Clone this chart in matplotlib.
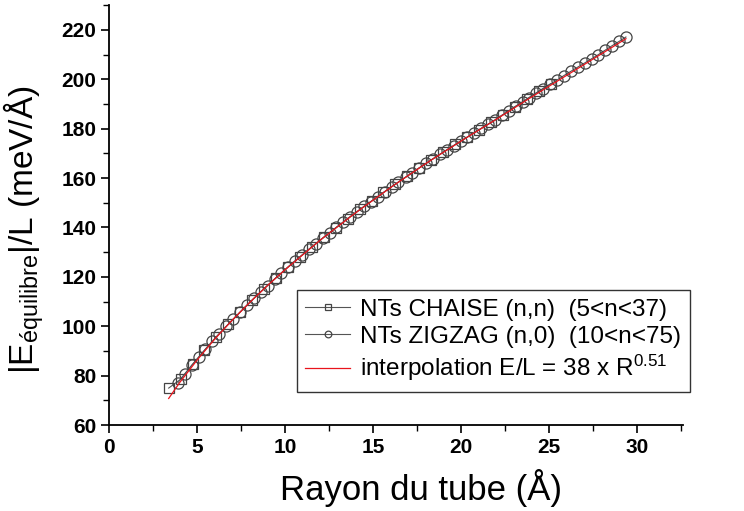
import matplotlib
matplotlib.use('Agg')
import matplotlib.pyplot as plt
from matplotlib.ticker import MultipleLocator

plt.rcParams['font.family'] = ['Liberation Sans', 'DejaVu Sans']
plt.rcParams['mathtext.fontset'] = 'custom'
plt.rcParams['mathtext.rm'] = 'Liberation Sans'
plt.rcParams['mathtext.it'] = 'Liberation Sans:italic'

# nanotubes chaise (n,n), 5 <= n <= 37
chaise_r = [3.39, 4.07, 4.75, 5.42, 6.10, 6.78, 7.46, 8.14, 8.81, 9.49, 10.17,
            10.85, 11.53, 12.20, 12.88, 13.56, 14.24, 14.92, 15.59, 16.27, 16.95,
            17.63, 18.31, 18.98, 19.66, 20.34, 21.02, 21.70, 22.37, 23.05, 23.73,
            24.41, 25.09]
chaise_e = [75.0, 78.6, 84.7, 90.3, 95.8, 100.9, 105.9, 110.7, 115.3, 119.7, 124.0,
            128.2, 132.2, 136.1, 139.9, 143.6, 147.3, 150.8, 154.2, 157.6, 160.9,
            164.2, 167.4, 170.5, 173.6, 176.6, 179.6, 182.5, 185.7, 188.9, 192.0,
            195.2, 198.2]

# nanotubes zigzag (n,0), 10 <= n <= 75
zigzag_r = [3.92, 4.31, 4.70, 5.09, 5.48, 5.87, 6.26, 6.66, 7.05, 7.44, 7.83,
            8.22, 8.61, 9.01, 9.40, 9.79, 10.18, 10.57, 10.96, 11.35, 11.75,
            12.14, 12.53, 12.92, 13.31, 13.70, 14.10, 14.49, 14.88, 15.27, 15.66,
            16.05, 16.44, 16.84, 17.23, 17.62, 18.01, 18.40, 18.79, 19.19, 19.58,
            19.97, 20.36, 20.75, 21.14, 21.53, 21.93, 22.32, 22.71, 23.10, 23.49,
            23.88, 24.27, 24.67, 25.06, 25.45, 25.84, 26.23, 26.62, 27.02, 27.41,
            27.80, 28.19, 28.58, 28.97, 29.36]
zigzag_e = [77.2, 80.8, 84.2, 87.5, 90.8, 93.9, 97.0, 100.0, 102.8, 105.7, 108.5,
            111.3, 113.9, 116.5, 119.1, 121.6, 124.1, 126.5, 128.8, 131.2, 133.4,
            135.7, 137.9, 140.1, 142.2, 144.4, 146.4, 148.5, 150.5, 152.5, 154.5,
            156.5, 158.4, 160.3, 162.2, 164.1, 165.9, 167.8, 169.6, 171.4, 173.1,
            174.9, 176.6, 178.4, 180.1, 181.8, 183.4, 185.4, 187.1, 189.0, 190.8,
            192.6, 194.4, 196.2, 198.0, 199.7, 201.5, 203.2, 204.9, 206.6, 208.3,
            210.0, 211.8, 213.6, 215.3, 217.1]

# interpolation E/L = 38 x R^0.51 (as drawn in the figure)
fit_r = [3.39, 4, 5, 6, 7, 8, 9, 10, 12, 14, 16, 18, 20, 22, 24, 26, 28, 29.36]
fit_e = [70.8, 77.1, 86.3, 94.8, 102.5, 109.7, 116.5, 122.9, 134.9, 145.9,
         156.2, 165.9, 175.0, 183.8, 192.8, 201.6, 210.4, 216.4]

fig = plt.figure(figsize=(7.44, 5.11), dpi=100)
ax = fig.add_axes([0.1465, 0.168, 0.7715, 0.822])

ax.plot(chaise_r, chaise_e, color='#555555', lw=0.8, marker='s', ms=7.5,
        mfc='none', mec='#444444', mew=0.9,
        label='NTs CHAISE (n,n)  (5<n<37)')
ax.plot(zigzag_r, zigzag_e, color='#555555', lw=0.8, marker='o', ms=8,
        mfc='none', mec='#444444', mew=0.9,
        label='NTs ZIGZAG (n,0)  (10<n<75)')
ax.plot(fit_r, fit_e, color='#e8141c', lw=0.9,
        label='interpolation E/L = 38 x R$^{0.51}$')

ax.set_xlim(0, 32.6)
ax.set_ylim(60, 230)
ax.xaxis.set_major_locator(MultipleLocator(5))
ax.xaxis.set_minor_locator(MultipleLocator(2.5))
ax.yaxis.set_major_locator(MultipleLocator(20))
ax.yaxis.set_minor_locator(MultipleLocator(10))
ax.spines['top'].set_visible(False)
ax.spines['right'].set_visible(False)
for s in ('left', 'bottom'):
    ax.spines[s].set_linewidth(1.3)
ax.tick_params(which='major', direction='out', length=6, width=1.2,
               labelsize=15, pad=3)
ax.tick_params(which='minor', direction='out', length=4, width=1.0)
for lab in ax.get_xticklabels() + ax.get_yticklabels():
    lab.set_fontweight('bold')

ax.set_xlabel('Rayon du tube (Å)', fontsize=25)
ax.xaxis.set_label_coords(0.544, -0.105)
ax.set_ylabel(r'$|\mathrm{E}_{\mathrm{équilibre}}|$/L (meV/Å)', fontsize=24)
ax.yaxis.set_label_coords(-0.11, 0.465)

leg = ax.legend(loc='upper left', bbox_to_anchor=(0.399, 0.4325),
                bbox_transform=fig.transFigure, borderaxespad=0,
                fontsize=17.5, frameon=True, fancybox=False,
                handlelength=1.85, markerscale=0.6, labelspacing=0.22,
                borderpad=0.35, handletextpad=0.4)
leg.get_frame().set_edgecolor('black')
leg.get_frame().set_linewidth(1.0)

fig.savefig('out.png', dpi=100)
